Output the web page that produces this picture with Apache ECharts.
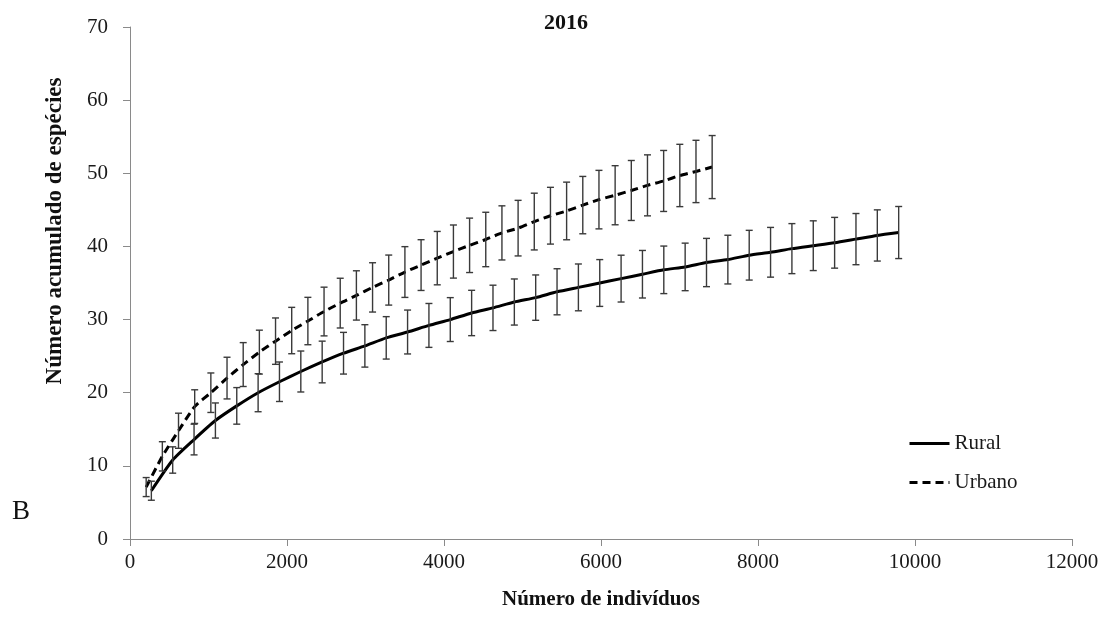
<!DOCTYPE html>
<html>
<head>
<meta charset="utf-8">
<title>2016 – Curvas de acumulação de espécies</title>
<script src="https://cdn.jsdelivr.net/npm/echarts@6/dist/echarts.min.js"></script>
<style>
  html, body { margin: 0; padding: 0; background: #ffffff; }
  #chart { width: 1109px; height: 626px; }
</style>
</head>
<body>
<div id="chart"></div>
<script>
// Número de indivíduos (eixo x) for each accumulated sample
const ruralX = [272, 544, 816, 1088, 1360, 1632, 1904, 2176, 2448, 2720, 2992, 3264,
  3536, 3808, 4080, 4352, 4624, 4896, 5168, 5440, 5712, 5984, 6256, 6528,
  6800, 7072, 7344, 7616, 7888, 8160, 8432, 8704, 8976, 9248, 9520, 9792];
const urbanoX = [206, 412, 618, 824, 1030, 1236, 1442, 1648, 1854, 2060, 2266, 2472,
  2678, 2884, 3090, 3296, 3502, 3708, 3914, 4120, 4326, 4532, 4738, 4944,
  5150, 5356, 5562, 5768, 5974, 6180, 6386, 6592, 6798, 7004, 7210, 7416];

// Número acumulado de espécies (média) and desvio padrão
const ruralMean = [6.6, 10.8, 13.6, 16.2, 18.2, 20.0, 21.5, 22.9, 24.2, 25.4, 26.4, 27.5,
  28.3, 29.2, 30.0, 30.9, 31.6, 32.4, 33.0, 33.8, 34.4, 35.0, 35.6, 36.2,
  36.8, 37.2, 37.8, 38.2, 38.8, 39.2, 39.7, 40.1, 40.5, 41.0, 41.5, 41.9];
const ruralSd = [1.3, 1.8, 2.1, 2.4, 2.5, 2.6, 2.7, 2.8, 2.85, 2.85, 2.9, 2.9,
  3.0, 3.0, 3.0, 3.1, 3.1, 3.15, 3.1, 3.15, 3.2, 3.2, 3.2, 3.25,
  3.25, 3.25, 3.3, 3.33, 3.4, 3.4, 3.42, 3.4, 3.47, 3.5, 3.5, 3.56];
const urbanoMean = [7.1, 11.3, 14.8, 18.1, 20.0, 22.0, 23.85, 25.55, 27.05, 28.5, 29.8, 31.1,
  32.25, 33.3, 34.4, 35.4, 36.5, 37.45, 38.4, 39.3, 40.15, 40.95, 41.85, 42.5,
  43.4, 44.2, 44.85, 45.65, 46.4, 47.0, 47.65, 48.35, 48.95, 49.7, 50.25, 50.85];
const urbanoSd = [1.3, 2.0, 2.4, 2.3, 2.7, 2.85, 3.0, 3.0, 3.17, 3.17, 3.24, 3.33,
  3.4, 3.37, 3.37, 3.42, 3.47, 3.47, 3.65, 3.63, 3.72, 3.72, 3.7, 3.8,
  3.88, 3.88, 3.94, 3.92, 4.0, 4.04, 4.1, 4.17, 4.17, 4.26, 4.26, 4.31];

const serif = "'Liberation Serif', 'Times New Roman', serif";

const pairs = (xs, ys) => xs.map((x, i) => [x, ys[i]]);
const bars = (xs, m, sd) => xs.map((x, i) => [x, m[i] - sd[i], m[i] + sd[i]]);

// vertical error bar with short caps
function errorBar(params, api) {
  const x = api.value(0);
  const lo = api.coord([x, api.value(1)]);
  const hi = api.coord([x, api.value(2)]);
  const hw = 3.5;
  const style = { stroke: '#3a3a3a', lineWidth: 1.4 };
  return {
    type: 'group',
    children: [
      { type: 'line', shape: { x1: hi[0], y1: hi[1], x2: lo[0], y2: lo[1] }, style },
      { type: 'line', shape: { x1: hi[0] - hw, y1: hi[1], x2: hi[0] + hw, y2: hi[1] }, style },
      { type: 'line', shape: { x1: lo[0] - hw, y1: lo[1], x2: lo[0] + hw, y2: lo[1] }, style }
    ]
  };
}

const chart = echarts.init(document.getElementById('chart'), null, { renderer: 'canvas' });

chart.setOption({
  backgroundColor: '#ffffff',
  animation: false,
  grid: { left: 130, right: 37, top: 27, bottom: 87 },
  legend: {
    orient: 'vertical',
    left: 908,
    top: 433,
    padding: 0,
    itemWidth: 40,
    itemHeight: 18,
    itemGap: 18,
    data: ['Rural', 'Urbano'],
    itemStyle: { opacity: 0 },
    lineStyle: { width: 3, color: '#000' },
    textStyle: { fontFamily: serif, fontSize: 21, color: '#1a1a1a' }
  },
  graphic: [
    {
      type: 'text', z: 10,
      position: [566, 23],
      style: { text: '2016', fontFamily: serif, fontWeight: 'bold', fontSize: 22, fill: '#111',
               textAlign: 'center', textVerticalAlign: 'middle' }
    },
    {
      type: 'text', z: 10,
      position: [55, 231], rotation: Math.PI / 2,
      style: { text: 'Número acumulado de espécies', fontFamily: serif, fontWeight: 'bold', fontSize: 23,
               fill: '#111', textAlign: 'center', textVerticalAlign: 'middle' }
    },
    {
      type: 'text', z: 10,
      position: [21, 512],
      style: { text: 'B', fontFamily: serif, fontSize: 27, fill: '#111',
               textAlign: 'center', textVerticalAlign: 'middle' }
    }
  ],
  xAxis: {
    type: 'value',
    min: 0, max: 12000, interval: 2000,
    name: 'Número de indivíduos',
    nameLocation: 'middle',
    nameGap: 50,
    nameTextStyle: { fontFamily: serif, fontWeight: 'bold', fontSize: 21, color: '#111' },
    axisLine: { show: true, lineStyle: { color: '#8a8a8a', width: 1 } },
    axisTick: { show: true, length: 7, lineStyle: { color: '#8a8a8a' } },
    axisLabel: { fontFamily: serif, fontSize: 21, color: '#1a1a1a', margin: 13,
                 formatter: v => String(v) },
    splitLine: { show: false }
  },
  yAxis: {
    type: 'value',
    min: 0, max: 70, interval: 10,
    axisLine: { show: true, lineStyle: { color: '#8a8a8a', width: 1 } },
    axisTick: { show: true, length: 7, lineStyle: { color: '#8a8a8a' } },
    axisLabel: { fontFamily: serif, fontSize: 21, color: '#1a1a1a', margin: 22 },
    splitLine: { show: false }
  },
  series: [
    {
      name: 'Rural', type: 'line', data: pairs(ruralX, ruralMean),
      symbol: 'none', smooth: 0.2, z: 3,
      lineStyle: { color: '#000', width: 3 },
      itemStyle: { color: '#000' }
    },
    {
      name: 'Urbano', type: 'line', data: pairs(urbanoX, urbanoMean),
      symbol: 'none', smooth: 0.2, z: 3,
      lineStyle: { color: '#000', width: 3, type: [8, 5] },
      itemStyle: { color: '#000' }
    },
    {
      name: 'Rural DP', type: 'custom', renderItem: errorBar, z: 4,
      data: bars(ruralX, ruralMean, ruralSd), encode: { x: 0, y: [1, 2] }
    },
    {
      name: 'Urbano DP', type: 'custom', renderItem: errorBar, z: 4,
      data: bars(urbanoX, urbanoMean, urbanoSd), encode: { x: 0, y: [1, 2] }
    }
  ]
});
</script>
</body>
</html>
